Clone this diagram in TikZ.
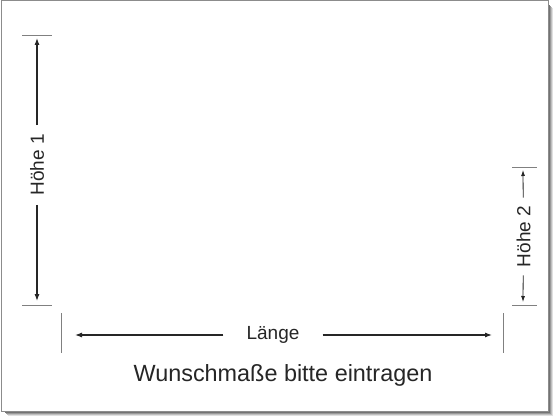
\documentclass[tikz,border=0pt]{standalone}
\usepackage{fontspec}
\setmainfont{Liberation Sans}
\usetikzlibrary{arrows.meta}
\begin{document}
\begin{tikzpicture}[x=1pt,y=-1pt,
	mass/.style={-{Latex[length=7pt,width=5pt]},line width=1.1pt,draw=black!85},
	massdünn/.style={-{Latex[length=6pt,width=4pt]},line width=0.8pt,draw=black!85},
	strich/.style={draw=black!50,line width=0.9pt},
	lbl/.style={text=black!85,font=\fontsize{19}{19}\selectfont,inner ysep=0pt}]
	\useasboundingbox (0,0) rectangle (560,420);

	%schatten und rahmen
	\foreach \k/\c in {5/12,4/25,3/40,2/55,1/68}
		\fill [black!\c] (\k+3,\k+3) rectangle (548+\k,411+\k);
	\filldraw [fill=white,draw=black!45,line width=1pt] (1,1) rectangle (548,411);

	%Höhe 1
	\draw [strich] (22,35) -- (52,35);
	\draw [strich] (22,305) -- (52,305);
	\coordinate (h1oben) at (37,38);
	\coordinate (h1unten) at (37,301);
	\node [lbl,rotate=90,inner xsep=9pt] (hoehe1) at (37,165) {Höhe 1};
	\draw [mass] (hoehe1) -- (h1oben);
	\draw [mass] (hoehe1) -- (h1unten);

	%Höhe 2
	\draw [strich] (512,167) -- (537,167);
	\draw [strich] (512,305) -- (537,305);
	\coordinate (h2oben) at (523,170);
	\coordinate (h2unten) at (523,302);
	\node [lbl,rotate=90,inner xsep=8pt] (hoehe2) at (523.5,236.5) {Höhe 2};
	\draw [massdünn] (hoehe2) -- (h2oben);
	\draw [massdünn] (hoehe2) -- (h2unten);

	%Länge
	\draw [strich] (61,313) -- (61,353);
	\draw [strich] (503,313) -- (503,353);
	\coordinate (llinks) at (75,335);
	\coordinate (lrechts) at (492,335);
	\node [lbl,inner xsep=23pt] (laenge) at (273,335) {Länge};
	\draw [mass] (laenge) -- (llinks);
	\draw [mass] (laenge) -- (lrechts);

	\node [text=black!85,font=\fontsize{23.4}{24}\selectfont,anchor=base] (titel) at (283,381) {Wunschmaße bitte eintragen};
\end{tikzpicture}
\end{document}
